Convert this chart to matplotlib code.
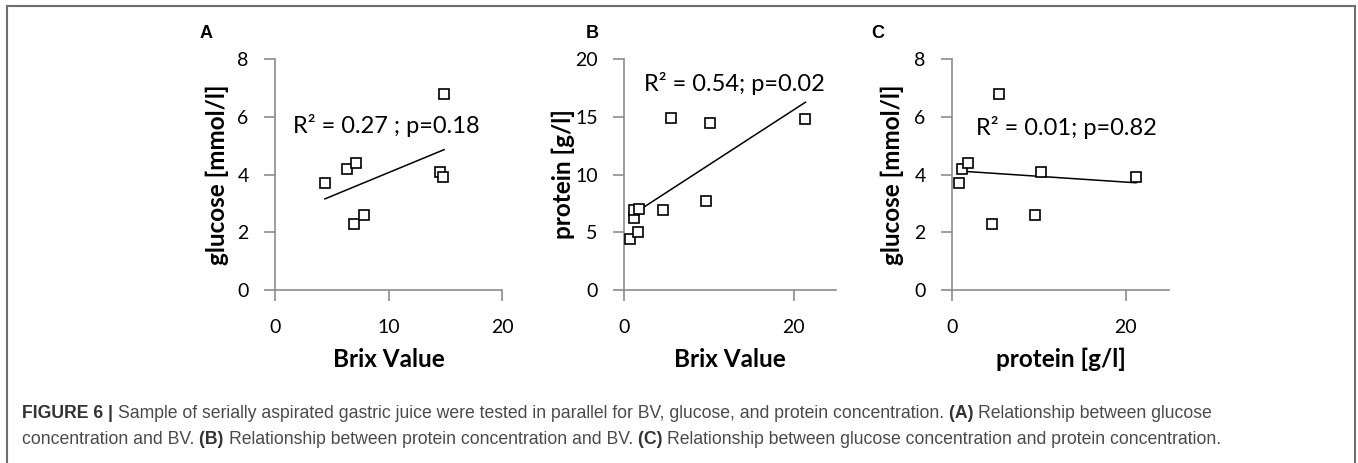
import numpy as np
import matplotlib
matplotlib.use("Agg")
import matplotlib.pyplot as plt
from matplotlib.lines import Line2D

# data
brix_a = [4.4, 6.3, 7.1, 7.0, 7.8, 14.5, 14.8, 14.9]
glucose_a = [3.7, 4.2, 4.4, 2.3, 2.6, 4.1, 3.9, 6.8]

brix_b = [0.7, 1.7, 1.2, 1.2, 1.8, 4.6, 5.6, 10.2, 9.7, 21.4]
protein_b = [4.4, 5.0, 6.2, 6.9, 7.0, 6.9, 14.9, 14.5, 7.7, 14.8]

protein_c = [0.8, 1.2, 1.8, 5.4, 4.6, 9.6, 10.2, 21.2]
glucose_c = [3.7, 4.2, 4.4, 6.8, 2.3, 2.6, 4.1, 3.9]

stats = ["R\u00b2 = 0.27 ; p=0.18", "R\u00b2 = 0.54; p=0.02", "R\u00b2 = 0.01; p=0.82"]
panel_letters = ["A", "B", "C"]

W, H = 1358, 463
fig = plt.figure(figsize=(W / 100, H / 100), dpi=100)

plt.rcParams['font.family'] = ['Lato', 'DejaVu Sans']

def px_axes(left, right, top, bottom):
    return fig.add_axes([left / W, 1 - bottom / H, (right - left) / W, (bottom - top) / H])

grey = "#8c8c8c"

def style(ax, xmax, ymax, xstep, ystep, xlabel, ylabel, ylab_px):
    ax.set_xlim(0, xmax)
    ax.set_ylim(0, ymax)
    ax.set_xticks(np.arange(0, xmax + 0.1, xstep))
    ax.set_yticks(np.arange(0, ymax + 0.1, ystep))
    for s in ["top", "right"]:
        ax.spines[s].set_visible(False)
    for s in ["left", "bottom"]:
        ax.spines[s].set_color(grey)
        ax.spines[s].set_linewidth(1.2)
    ax.tick_params(axis="both", direction="out", length=8, width=1.2, color=grey,
                   labelsize=14, labelcolor="black")
    ax.tick_params(axis="y", pad=11)
    ax.tick_params(axis="x", pad=13)
    ax.set_xlabel(xlabel, fontsize=17.5, fontweight="bold")
    ax.set_ylabel(ylabel, fontsize=17.5, fontweight="bold")
    ax.xaxis.set_label_coords(0.5, -0.3)
    ax.xaxis.label.set_va("center")
    ax.yaxis.set_label_coords(ylab_px, 0.5)
    ax.yaxis.label.set_va("center")

def scatter_fit(ax, x, y):
    x = np.array(x)
    y = np.array(y)
    ax.plot(x, y, "s", ms=7.5, mfc="white", mec="black", mew=1.2, zorder=3, clip_on=False)
    k, b = np.polyfit(x, y, 1)
    xs = np.array([x.min(), x.max()])
    ax.plot(xs, k * xs + b, color="black", lw=1.1, zorder=2)

# panel A
ax1 = px_axes(275, 502, 59, 290)
scatter_fit(ax1, brix_a, glucose_a)
style(ax1, 20, 8, 10, 2, "Brix Value", "glucose [mmol/l]", (217 - 275) / 227)
ax1.text(1.6, 5.7, stats[0], fontsize=17, va="center", ha="left")

# panel B
ax2 = px_axes(624, 836, 59, 290)
scatter_fit(ax2, brix_b, protein_b)
style(ax2, 25, 20, 20, 5, "Brix Value", "protein [g/l]", (563 - 624) / 212)
ax2.text(2.4, 17.9, stats[1], fontsize=17, va="center", ha="left")

# panel C
ax3 = px_axes(952, 1169, 59, 290)
scatter_fit(ax3, protein_c, glucose_c)
style(ax3, 25, 8, 20, 2, "protein [g/l]", "glucose [mmol/l]", (892 - 952) / 217)
ax3.text(2.8, 5.64, stats[2], fontsize=17, va="center", ha="left")

# panel letters
for letter, xp in zip(panel_letters, [206, 592, 878]):
    fig.text(xp / W, 1 - 33 / H, letter, fontsize=13, fontweight="bold",
             family="Liberation Sans", ha="center", va="center")

# border around the figure
bc = "#6e6e6e"
fig.add_artist(Line2D([7 / W, 1355 / W], [1 - 6 / H, 1 - 6 / H], color=bc, lw=1.5))
fig.add_artist(Line2D([7 / W, 7 / W], [0, 1 - 6 / H], color=bc, lw=1.5))
fig.add_artist(Line2D([1355 / W, 1355 / W], [0, 1 - 6 / H], color=bc, lw=1.5))

# caption with bold pieces
line1 = [("FIGURE 6 | ", True),
         ("Sample of serially aspirated gastric juice were tested in parallel for BV, glucose, and protein concentration. ", False),
         ("(A) ", True), ("Relationship between glucose", False)]
line2 = [("concentration and BV. ", False), ("(B) ", True),
         ("Relationship between protein concentration and BV. ", False), ("(C) ", True),
         ("Relationship between glucose concentration and protein concentration.", False)]

renderer = fig.canvas.get_renderer()

def caption_line(parts, y_px):
    x = 22
    for txt, bold in parts:
        t = fig.text(x / W, 1 - y_px / H, txt, fontsize=12.7, family="Liberation Sans",
                     fontweight="bold" if bold else "normal",
                     color="#333333" if bold else "#4a4a4a", va="center", ha="left")
        bb = t.get_window_extent(renderer=renderer)
        x += bb.width

caption_line(line1, 414)
caption_line(line2, 439)

fig.savefig("out.png", dpi=100)
